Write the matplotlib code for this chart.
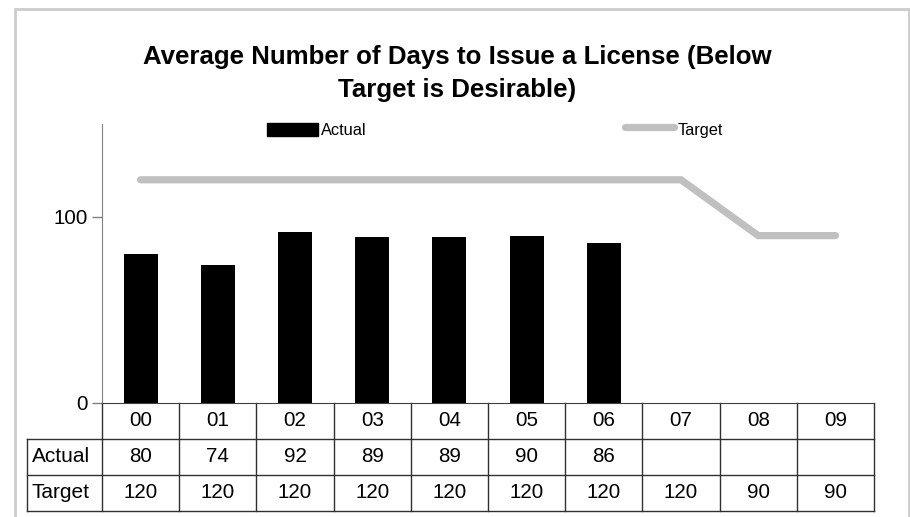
import numpy as np
import matplotlib
matplotlib.use("Agg")
import matplotlib.pyplot as plt
from matplotlib.patches import Rectangle
from matplotlib.lines import Line2D
from matplotlib.transforms import blended_transform_factory

plt.rcParams["font.family"] = ["Liberation Sans", "DejaVu Sans"]

# data
years = ["00", "01", "02", "03", "04", "05", "06", "07", "08", "09"]
actual = [80, 74, 92, 89, 89, 90, 86]
target = [120, 120, 120, 120, 120, 120, 120, 120, 90, 90]
row_names = ["Actual", "Target"]
title1 = "Average Number of Days to Issue a License (Below"
title2 = "Target is Desirable)"

W, H = 910, 517
fig = plt.figure(figsize=(W / 100, H / 100), dpi=100)

def px(x, y):  # pixel (from top-left) -> figure fraction
    return x / W, 1 - y / H

# light grey chart border
x0, y0 = px(15, 9)
fig.patches.append(Rectangle((x0, -0.05), (909 - 15) / W, y0 + 0.05, transform=fig.transFigure,
                             fill=False, ec="#cccccc", lw=2))

# axes box in pixels
L, R, T, B = 102, 874, 124, 403
ax = fig.add_axes([L / W, 1 - B / H, (R - L) / W, (B - T) / H])
x = np.arange(len(years))
ax.bar(x[:len(actual)], actual, width=0.44, color="black", zorder=2)
ax.plot(x, target, color="#c0c0c0", lw=5.2, solid_capstyle="round", solid_joinstyle="miter", zorder=3)
ax.set_xlim(-0.5, len(years) - 0.5)
ax.set_ylim(0, 150)
ax.set_yticks([0, 100])
ax.tick_params(axis="y", length=7, width=1, color="#808080", labelsize=14.8, pad=3)
ax.set_xticks([])
for s in ["top", "right"]:
    ax.spines[s].set_visible(False)
ax.spines["left"].set_color("#808080")
ax.spines["bottom"].set_color("#404040")

# data table under the axes
tr = blended_transform_factory(ax.transData, ax.transAxes)
rowh = 36 / (B - T)
lab_left = -0.5 - (L - 27) / ((R - L) / len(years))
lc, lw = "#303030", 1.0
n = len(years)
def hline(xa, xb, y):
    ax.add_line(Line2D([xa, xb], [y, y], transform=tr, color=lc, lw=lw, clip_on=False))
def vline(xv, ya, yb):
    ax.add_line(Line2D([xv, xv], [ya, yb], transform=tr, color=lc, lw=lw, clip_on=False))

hline(-0.5, n - 0.5, -rowh)
hline(lab_left, -0.5, -rowh)
for k in (2, 3):
    hline(lab_left, n - 0.5, -k * rowh)
for i in range(n + 1):
    vline(i - 0.5, 0, -3 * rowh)
vline(lab_left, -rowh, -3 * rowh)

for i, yr in enumerate(years):
    ax.text(i, -0.5 * rowh, yr, transform=tr, ha="center", va="center", fontsize=14.8)
rows = [actual, target]
for r, (name, vals) in enumerate(zip(row_names, rows)):
    yc = -(r + 1.5) * rowh
    ax.text(lab_left + 0.06, yc, name, transform=tr, ha="left", va="center", fontsize=15)
    for i, v in enumerate(vals):
        ax.text(i, yc, str(v), transform=tr, ha="center", va="center", fontsize=14.8)

# title
fig.text(*px(457, 57), title1, ha="center", va="center", fontsize=18.6, fontweight="bold")
fig.text(*px(457, 90), title2, ha="center", va="center", fontsize=18.6, fontweight="bold")

# legend drawn by hand to match placement
fig.patches.append(Rectangle(px(267, 136), 51 / W, 13 / H, transform=fig.transFigure,
                             color="black"))
fig.text(*px(321, 130), row_names[0], ha="left", va="center", fontsize=11.8)
fig.lines.append(Line2D([625 / W, 674 / W], [1 - 127 / H] * 2, transform=fig.transFigure,
                        color="#c0c0c0", lw=5.2, solid_capstyle="round"))
fig.text(*px(678, 130), row_names[1], ha="left", va="center", fontsize=11.8)

fig.savefig("out.png", dpi=100, facecolor="white")
